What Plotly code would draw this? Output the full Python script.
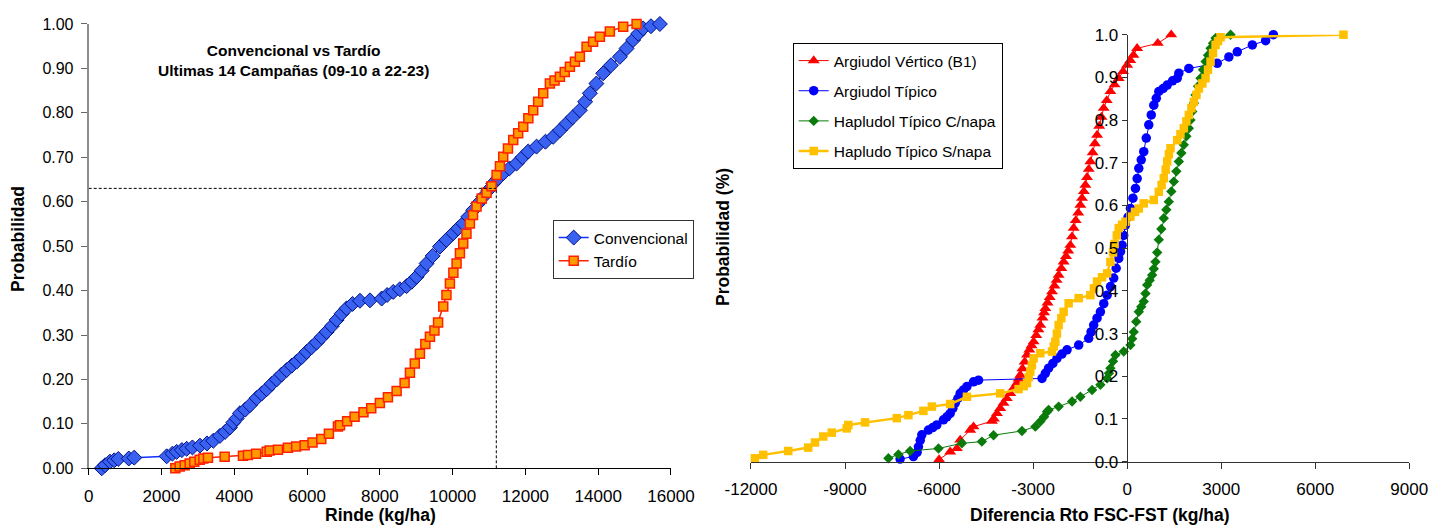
import plotly.graph_objects as go

# ---------------- Left chart data: Convencional vs Tardío ----------------
conv_rinde = [357, 450, 585, 700, 813, 1100, 1250, 2143, 2300, 2417, 2560, 2692, 2850, 3058, 3250,
              3423, 3607, 3750, 3881, 3973, 4065, 4156, 4300, 4431, 4615, 4750, 4890, 5030, 5164,
              5300, 5439, 5580, 5714, 5850, 5988, 6120, 6263, 6400, 6538, 6680, 6813, 6950, 7087,
              7250, 7453, 7728, 8049, 8200, 8368, 8550, 8736, 8880, 9010, 9150, 9285, 9450, 9651,
              9830, 10016, 10150, 10291, 10430, 10566, 10700, 10841, 10980, 11115, 11250, 11390,
              11560, 11757, 11920, 12076, 12306, 12550, 12763, 12950, 13131, 13300, 13496, 13640,
              13771, 13950, 14137, 14350, 14595, 14780, 14960, 15100, 15235, 15450, 15694]
conv_prob = [0.000, 0.007, 0.015, 0.018, 0.021, 0.022, 0.024, 0.027, 0.033, 0.037, 0.041, 0.044, 0.047,
             0.051, 0.056, 0.062, 0.073, 0.082, 0.092, 0.103, 0.112, 0.124, 0.132, 0.142, 0.158, 0.168,
             0.178, 0.190, 0.200, 0.211, 0.221, 0.231, 0.240, 0.250, 0.262, 0.272, 0.283, 0.295, 0.307,
             0.320, 0.334, 0.348, 0.360, 0.370, 0.377, 0.378, 0.382, 0.390, 0.397, 0.403, 0.410, 0.420,
             0.431, 0.445, 0.461, 0.478, 0.499, 0.514, 0.529, 0.540, 0.551, 0.566, 0.581, 0.596, 0.611,
             0.626, 0.641, 0.653, 0.664, 0.675, 0.686, 0.700, 0.713, 0.724, 0.735, 0.746, 0.761, 0.776,
             0.790, 0.806, 0.825, 0.844, 0.866, 0.889, 0.907, 0.926, 0.945, 0.964, 0.978, 0.990, 0.995,
             1.000]

tard_rinde = [2380, 2500, 2637, 2774, 2900, 3049, 3150, 3277, 3735, 4238, 4376, 4600, 4890, 4972, 5200,
              5474, 5700, 5933, 6150, 6390, 6600, 6848, 6904, 7100, 7306, 7550, 7763, 8000, 8222, 8461,
              8680, 8827, 8960, 9101, 9250, 9376, 9500, 9600, 9742, 9830, 9925, 10020, 10108, 10200,
              10291, 10380, 10474, 10560, 10657, 10800, 10932, 11070, 11207, 11300, 11390, 11520, 11665,
              11800, 11940, 12080, 12214, 12350, 12489, 12672, 12800, 12947, 13080, 13222, 13360, 13496,
              13680, 13860, 14045, 14320, 14686, 15054]
tard_prob = [0.000, 0.004, 0.007, 0.011, 0.015, 0.019, 0.022, 0.024, 0.026, 0.028, 0.030, 0.033, 0.037,
             0.040, 0.042, 0.046, 0.049, 0.052, 0.058, 0.066, 0.078, 0.094, 0.097, 0.106, 0.116, 0.126,
             0.135, 0.147, 0.160, 0.174, 0.192, 0.215, 0.236, 0.258, 0.280, 0.296, 0.310, 0.328, 0.364,
             0.390, 0.416, 0.440, 0.461, 0.484, 0.506, 0.528, 0.551, 0.570, 0.589, 0.607, 0.620, 0.635,
             0.660, 0.680, 0.701, 0.720, 0.739, 0.754, 0.769, 0.788, 0.806, 0.825, 0.844, 0.866, 0.873,
             0.881, 0.892, 0.904, 0.915, 0.926, 0.949, 0.960, 0.971, 0.983, 0.994, 1.000]

ref_rinde = 11200
ref_prob = 0.63

left_x_ticks = [0, 2000, 4000, 6000, 8000, 10000, 12000, 14000, 16000]
left_x_ticktext = ["0", "2000", "4000", "6000", "8000", "10000", "12000", "14000", "16000"]
left_y_ticks = [0.0, 0.1, 0.2, 0.3, 0.4, 0.5, 0.6, 0.7, 0.8, 0.9, 1.0]

# ---------------- Right chart data: Diferencia Rto FSC-FST ----------------
av_dif = [-6000, -5646, -5432, -5326, -5006, -4901, -4313, -4250, -4153, -4050, -3943, -3840, -3729,
          -3620, -3514, -3460, -3409, -3340, -3270, -3195, -3120, -3050, -2984, -2900, -2830, -2770,
          -2700, -2650, -2610, -2540, -2470, -2396, -2320, -2250, -2185, -2100, -2026, -1950, -1880,
          -1812, -1760, -1706, -1640, -1560, -1492, -1440, -1380, -1332, -1280, -1225, -1173, -1100,
          -1030, -959, -890, -820, -748, -650, -534, -400, -268, -130, 0, 100, 200, 319, 978, 1406]
av_prob = [0.005, 0.023, 0.031, 0.051, 0.074, 0.082, 0.095, 0.100, 0.113, 0.125, 0.137, 0.148, 0.160,
           0.172, 0.184, 0.194, 0.203, 0.218, 0.234, 0.250, 0.262, 0.272, 0.281, 0.296, 0.309, 0.320,
           0.337, 0.349, 0.359, 0.372, 0.385, 0.398, 0.412, 0.425, 0.437, 0.453, 0.468, 0.481, 0.494,
           0.507, 0.527, 0.547, 0.565, 0.583, 0.601, 0.617, 0.633, 0.648, 0.666, 0.685, 0.703, 0.724,
           0.745, 0.765, 0.786, 0.807, 0.828, 0.846, 0.867, 0.883, 0.898, 0.914, 0.929, 0.940, 0.952,
           0.968, 0.980, 1.000]

at_dif = [-7243, -6818, -6700, -6658, -6600, -6550, -6339, -6200, -6071, -5860, -5750, -5646, -5560,
          -5486, -5400, -5326, -5220, -5112, -4901, -4741, -2716, -2610, -2505, -2370, -2237, -2080,
          -1917, -1546, -1227, -1150, -1067, -960, -853, -746, -639, -530, -428, -350, -268, -210,
          -160, -110, -54, 30, 105, 185, 265, 320, 371, 450, 530, 610, 690, 770, 850, 930, 1010, 1150,
          1278, 1450, 1598, 1649, 1968, 2875, 3246, 3514, 3994, 4419, 4665]
at_prob = [0.006, 0.012, 0.022, 0.035, 0.050, 0.063, 0.074, 0.080, 0.086, 0.098, 0.105, 0.113, 0.125,
           0.137, 0.148, 0.160, 0.168, 0.176, 0.187, 0.191, 0.195, 0.207, 0.219, 0.230, 0.242, 0.252,
           0.262, 0.273, 0.289, 0.304, 0.320, 0.336, 0.351, 0.370, 0.390, 0.410, 0.430, 0.453, 0.476,
           0.492, 0.507, 0.530, 0.554, 0.573, 0.593, 0.617, 0.640, 0.663, 0.687, 0.707, 0.726, 0.758,
           0.789, 0.812, 0.835, 0.851, 0.867, 0.874, 0.882, 0.892, 0.898, 0.910, 0.921, 0.933, 0.948,
           0.960, 0.976, 0.986, 1.000]

hc_dif = [-7616, -7297, -6924, -6019, -5272, -4633, -4262, -3355, -2930, -2770, -2650, -2556, -2505,
          -2185, -1757, -1492, -1118, -853, -639, -580, -534, -450, -374, -109, 105, 160, 211, 290,
          371, 450, 530, 585, 639, 720, 799, 850, 904, 958, 1010, 1090, 1169, 1250, 1329, 1410, 1489,
          1570, 1649, 1730, 1808, 1890, 1968, 2020, 2077, 2130, 2182, 2260, 2342, 2420, 2502, 2580,
          2661, 2740, 2821, 3300]
hc_prob = [0.008, 0.017, 0.025, 0.031, 0.043, 0.047, 0.062, 0.072, 0.082, 0.094, 0.105, 0.117, 0.121,
           0.129, 0.141, 0.152, 0.168, 0.180, 0.195, 0.207, 0.219, 0.235, 0.250, 0.258, 0.273, 0.288,
           0.304, 0.328, 0.351, 0.363, 0.375, 0.394, 0.414, 0.425, 0.437, 0.452, 0.468, 0.490, 0.520,
           0.545, 0.570, 0.590, 0.609, 0.633, 0.656, 0.680, 0.703, 0.723, 0.742, 0.762, 0.781, 0.800,
           0.820, 0.840, 0.859, 0.879, 0.898, 0.918, 0.937, 0.952, 0.968, 0.980, 0.992, 1.000]

hs_dif = [-11876, -11610, -10812, -10173, -9959, -9694, -9425, -8946, -8895, -8361, -7349, -6978,
          -6499, -6230, -5646, -5112, -4048, -3463, -3300, -3195, -3140, -3090, -3040, -2984, -2770,
          -2396, -2340, -2291, -2240, -2185, -2100, -2026, -1866, -1546, -1173, -1060, -959, -800,
          -639, -534, -450, -400, -330, -268, -160, -54, 105, 250, 371, 530, 850, 1010, 1100, 1169,
          1230, 1278, 1330, 1383, 1598, 1700, 1808, 1890, 1968, 2050, 2128, 2210, 2288, 2400, 2502,
          2580, 2661, 2740, 2821, 2900, 2981, 6901]
hs_prob = [0.008, 0.016, 0.025, 0.033, 0.045, 0.059, 0.068, 0.078, 0.086, 0.092, 0.102, 0.109, 0.119,
           0.129, 0.135, 0.152, 0.160, 0.170, 0.177, 0.184, 0.198, 0.211, 0.226, 0.242, 0.254, 0.258,
           0.270, 0.281, 0.300, 0.320, 0.336, 0.351, 0.371, 0.383, 0.390, 0.406, 0.422, 0.432, 0.441,
           0.468, 0.490, 0.510, 0.530, 0.547, 0.555, 0.562, 0.574, 0.585, 0.593, 0.605, 0.613, 0.632,
           0.648, 0.664, 0.684, 0.703, 0.720, 0.734, 0.753, 0.767, 0.781, 0.797, 0.812, 0.828, 0.843,
           0.859, 0.874, 0.886, 0.898, 0.918, 0.937, 0.957, 0.976, 0.985, 0.994, 1.000]

right_x_tickvals = [-12000, -9000, -6000, -3000, 0, 3000, 6000, 9000]
right_x_ticktext = ["-12000", "-9000", "-6000", "-3000", "0", "3000", "6000", "9000"]
right_y_ticks = [0.0, 0.1, 0.2, 0.3, 0.4, 0.5, 0.6, 0.7, 0.8, 0.9, 1.0]

FONT = "Arial, Liberation Sans, sans-serif"

fig = go.Figure()

# Left chart traces
fig.add_trace(go.Scatter(
    x=conv_rinde, y=conv_prob, name="Convencional", mode="lines+markers",
    line=dict(color="#1030FF", width=1.5),
    marker=dict(symbol="diamond", size=11.5, color="#3A62F0", line=dict(color="#00108A", width=1)),
    cliponaxis=False, xaxis="x", yaxis="y", legend="legend"))
fig.add_trace(go.Scatter(
    x=tard_rinde, y=tard_prob, name="Tardío", mode="lines+markers",
    line=dict(color="#FF2000", width=1.5),
    marker=dict(symbol="square", size=9, color="#FF9A00", line=dict(color="#FF2000", width=1.5)),
    cliponaxis=False, xaxis="x", yaxis="y", legend="legend"))

# Right chart traces
right_series = [
    ("Argiudol Vértico (B1)", av_dif, av_prob, "#FF0000", "triangle-up", 10.5, 1),
    ("Argiudol Típico", at_dif, at_prob, "#0000FF", "circle", 9.5, 1),
    ("Hapludol Típico C/napa", hc_dif, hc_prob, "#0A7A0A", "diamond", 8, 1),
    ("Hapludo Típico S/napa", hs_dif, hs_prob, "#FFC000", "square", 8.5, 2.5),
]
for name, xs, ys, col, sym, sz, lw in right_series:
    fig.add_trace(go.Scatter(
        x=xs, y=ys, name=name, mode="lines+markers",
        line=dict(color=col, width=lw),
        marker=dict(symbol=sym, size=sz, color=col, line=dict(width=0)),
        cliponaxis=False, xaxis="x2", yaxis="y2", legend="legend2", legendgroup=name))

# Dashed reference lines (left chart)
fig.add_shape(type="line", xref="x", yref="y", x0=0, x1=ref_rinde, y0=ref_prob, y1=ref_prob,
              line=dict(color="black", width=1, dash="3px,2px"))
fig.add_shape(type="line", xref="x", yref="y", x0=ref_rinde, x1=ref_rinde, y0=0, y1=ref_prob,
              line=dict(color="black", width=1, dash="3px,2px"))

fig.update_layout(
    width=1431, height=525,
    margin=dict(l=0, r=0, t=0, b=0, pad=0, autoexpand=False),
    paper_bgcolor="white", plot_bgcolor="white",
    font=dict(family=FONT, color="black"),
    xaxis=dict(domain=[0.0620, 0.4689], range=[0, 16000], tickvals=left_x_ticks,
               ticktext=left_x_ticktext,
               ticks="outside", ticklen=6, tickcolor="black", showline=True, linecolor="black",
               linewidth=1, showgrid=False, zeroline=False, tickfont=dict(size=17, family=FONT),
               anchor="y", ticklabelstandoff=6, automargin=False),
    yaxis=dict(domain=[0.1080, 0.9543], range=[0, 1], tickvals=left_y_ticks, tickformat=".2f",
               ticks="outside", ticklen=6, tickcolor="#666666", showline=True, linecolor="#8C8C8C",
               linewidth=2, showgrid=False, zeroline=False, tickfont=dict(size=16, family=FONT),
               anchor="x", ticklabelstandoff=4, automargin=False),
    xaxis2=dict(domain=[0.5248, 0.9848], range=[-12000, 9000], tickvals=right_x_tickvals,
                ticktext=right_x_ticktext, ticks="outside", ticklen=6, tickcolor="#333333",
                showline=True, linecolor="#333333", linewidth=1, showgrid=False, zeroline=False,
                tickfont=dict(size=17, family=FONT), anchor="y2", ticklabelstandoff=6,
                automargin=False),
    yaxis2=dict(domain=[0.1206, 0.9339], range=[0, 1], tickvals=right_y_ticks, tickformat=".1f",
                ticks="outside", ticklen=5, tickcolor="#333333", showline=True, linecolor="#333333",
                linewidth=1, showgrid=False, zeroline=False, tickfont=dict(size=17, family=FONT),
                anchor="free", position=1126.7 / 1431, side="left", automargin=False),
    legend=dict(x=552.7 / 1431, y=(525 - 220) / 525, xanchor="left", yanchor="top",
                bordercolor="#333333", borderwidth=1, bgcolor="white",
                font=dict(size=15.5, family=FONT), tracegroupgap=0),
    legend2=dict(x=792.7 / 1431, y=(525 - 43) / 525, xanchor="left", yanchor="top",
                 bordercolor="black", borderwidth=1, bgcolor="white",
                 font=dict(size=15.5, family=FONT), traceorder="grouped", tracegroupgap=7),
    showlegend=True,
    annotations=[
        dict(text="<b>Convencional vs Tardío<br>Ultimas 14 Campañas (09-10 a 22-23)</b>",
             xref="paper", yref="paper", x=293 / 1431, y=(525 - 61) / 525,
             xanchor="center", yanchor="middle", showarrow=False,
             font=dict(size=15.5, family=FONT)),
        dict(text="<b>Rinde (kg/ha)</b>", xref="paper", yref="paper", x=380 / 1431,
             y=(525 - 515) / 525, xanchor="center", yanchor="middle", showarrow=False,
             font=dict(size=17.5, family=FONT)),
        dict(text="<b>Diferencia Rto FSC-FST (kg/ha)</b>", xref="paper", yref="paper",
             x=1100 / 1431, y=(525 - 515) / 525, xanchor="center", yanchor="middle",
             showarrow=False, font=dict(size=17.5, family=FONT)),
        dict(text="<b>Probabilidad</b>", xref="paper", yref="paper", x=18 / 1431,
             y=(525 - 239) / 525, xanchor="center", yanchor="middle", textangle=-90,
             showarrow=False, font=dict(size=17.5, family=FONT)),
        dict(text="<b>Probabilidad (%)</b>", xref="paper", yref="paper", x=723 / 1431,
             y=(525 - 237) / 525, xanchor="center", yanchor="middle", textangle=-90,
             showarrow=False, font=dict(size=17.5, family=FONT)),
    ],
)

fig.write_html("out.html")
